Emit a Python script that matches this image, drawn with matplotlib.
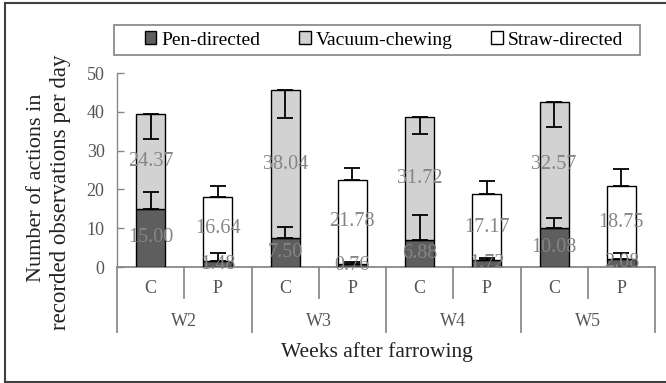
import matplotlib
matplotlib.use("Agg")
import matplotlib.pyplot as plt
from matplotlib.patches import Rectangle, Patch
from matplotlib.lines import Line2D
import numpy as np

weeks = ["W2", "W3", "W4", "W5"]
treatments = ["C", "P"]
pen_C = [15.00, 7.50, 6.88, 10.08]
vacuum_C = [24.37, 38.04, 31.72, 32.57]
pen_P = [1.48, 0.76, 1.72, 2.08]
straw_P = [16.64, 21.78, 17.17, 18.75]
pen_C_err = [4.4, 2.8, 6.5, 2.6]
vacuum_C_err = [6.4, 7.2, 4.3, 6.5]
pen_P_err = [2.1, 0.6, 0.5, 1.5]
straw_P_err = [2.8, 3.0, 3.3, 4.4]
legend_labels = ["Pen-directed", "Vacuum-chewing", "Straw-directed"]
yticks = [0, 10, 20, 30, 40, 50]

W, H = 666, 383
fig = plt.figure(figsize=(W / 100, H / 100), dpi=100)
ax_l, ax_r, ax_b, ax_t = 117, 655, 267, 73
ax = fig.add_axes([ax_l / W, 1 - ax_b / H, (ax_r - ax_l) / W, (ax_b - ax_t) / H])

serif = "Liberation Serif"
c_pen, c_vac, c_straw = "#5e5e5e", "#d2d2d2", "#ffffff"
bw = 0.43
n = len(weeks)
xC = np.arange(n) * 2 + 0.5
xP = np.arange(n) * 2 + 1.5

ekw = dict(ecolor="black", elinewidth=1.3, capsize=5.5, capthick=1.3, fmt="none", zorder=4)

ax.bar(xC, pen_C, bw, color=c_pen, edgecolor="black", linewidth=1.0, zorder=3)
ax.bar(xC, vacuum_C, bw, bottom=pen_C, color=c_vac, edgecolor="black", linewidth=1.0, zorder=3)
ax.bar(xP, pen_P, bw, color=c_pen, edgecolor="black", linewidth=1.0, zorder=3)
ax.bar(xP, straw_P, bw, bottom=pen_P, color=c_straw, edgecolor="black", linewidth=1.0, zorder=3)

topC = np.array(pen_C) + np.array(vacuum_C)
topP = np.array(pen_P) + np.array(straw_P)
ax.errorbar(xC, pen_C, yerr=[np.zeros(n), pen_C_err], **ekw)
ax.errorbar(xC, topC, yerr=[vacuum_C_err, np.zeros(n)], **ekw)
ax.errorbar(xP, pen_P, yerr=[np.zeros(n), pen_P_err], **ekw)
ax.errorbar(xP, topP, yerr=[np.zeros(n), straw_P_err], **ekw)

lab_kw = dict(ha="center", va="center", fontsize=14.5, family=serif, color="#858585", zorder=5)
for i in range(n):
    ax.text(xC[i], pen_C[i] / 2, f"{pen_C[i]:.2f}", **lab_kw)
    ax.text(xC[i], pen_C[i] + vacuum_C[i] / 2, f"{vacuum_C[i]:.2f}", **lab_kw)
    ax.text(xP[i], pen_P[i] / 2, f"{pen_P[i]:.2f}", **lab_kw)
    ax.text(xP[i], pen_P[i] + straw_P[i] / 2, f"{straw_P[i]:.2f}", **lab_kw)

ax.set_xlim(0, 2 * n)
ax.set_ylim(0, 50)
ax.set_yticks(yticks)
ax.set_yticklabels([str(t) for t in yticks], family=serif, fontsize=13, color="#555555")
ax.tick_params(axis="y", direction="in", length=5, width=1.0, color="#888888", pad=9)
ax.set_xticks([])
for s in ["top", "right"]:
    ax.spines[s].set_visible(False)
ax.spines["left"].set_color("#888888")
ax.spines["bottom"].set_color("#888888")
ax.spines["left"].set_linewidth(1.0)
ax.spines["bottom"].set_linewidth(1.3)
ax.patch.set_alpha(0)

trans = ax.get_xaxis_transform()
for k in range(n + 1):
    ax.plot([2 * k, 2 * k], [0, -0.335], transform=trans, color="#8c8c8c", lw=1.3, clip_on=False)
for k in range(n):
    ax.plot([2 * k + 1, 2 * k + 1], [0, -0.16], transform=trans, color="#8c8c8c", lw=1.3, clip_on=False)
    ax.text(xC[k], -0.113, treatments[0], transform=trans, ha="center", va="center",
            family=serif, fontsize=13, color="#555555")
    ax.text(xP[k], -0.113, treatments[1], transform=trans, ha="center", va="center",
            family=serif, fontsize=13, color="#555555")
    ax.text(2 * k + 1, -0.283, weeks[k], transform=trans, ha="center", va="center",
            family=serif, fontsize=13, color="#555555")
fig.text(377 / W, 1 - 352 / H, "Weeks after farrowing", ha="center", va="center",
         family=serif, fontsize=15.5, color="#222222")

# y label (two lines)
fig.text(37 / W, 1 - 188 / H, "Number of actions in", rotation=90, ha="center", va="center",
         family=serif, fontsize=16, color="#222222")
fig.text(61 / W, 1 - 192 / H, "recorded observations per day", rotation=90, ha="center", va="center",
         family=serif, fontsize=16.5, color="#222222")

# legend
handles = [Patch(facecolor=c, edgecolor="black", linewidth=1.0) for c in (c_pen, c_vac, c_straw)]
leg = fig.legend(handles, legend_labels, ncol=3, loc="center",
                 bbox_to_anchor=(384 / W, 1 - 40 / H), frameon=False,
                 prop={"family": serif, "size": 14}, handlelength=0.6, handleheight=0.6,
                 handletextpad=0.25, columnspacing=2.0, borderpad=0.2)
fig.patches.append(Rectangle((114 / W, 1 - 55 / H), (640 - 114) / W, 30 / H,
                             transform=fig.transFigure, fill=False, edgecolor="#8c8c8c", lw=1.3))

# outer frame (left, top, bottom)
fig.add_artist(Line2D([5 / W, 5 / W], [1 - 382 / H, 1 - 3 / H], color="#404040", lw=1.5))
fig.add_artist(Line2D([5 / W, 1], [1 - 3 / H, 1 - 3 / H], color="#404040", lw=1.5))
fig.add_artist(Line2D([5 / W, 1], [1 - 382 / H, 1 - 382 / H], color="#404040", lw=1.5))

fig.savefig("out.png", dpi=100)
